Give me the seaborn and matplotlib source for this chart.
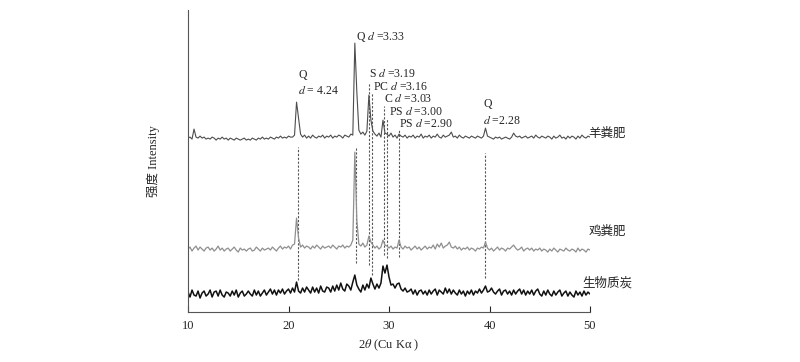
import numpy as np
import pandas as pd
import seaborn as sns
import matplotlib
matplotlib.use("Agg")
import matplotlib.pyplot as plt

# 2theta grid, 0.2 deg step
two_theta = np.round(np.arange(10, 50.001, 0.2), 1)

# intensity above each pattern's own baseline
yang = [
    2, 3, 1, 11, 3, 2, 4, 2, 3, 1,
    2, 1, 3, 2, 0, 2, 1, 3, 1, 2,
    0, 2, 1, 0, 2, 1, 0, 1, 2, 0,
    1, 0, 2, 1, 0, 2, 1, 3, 1, 2,
    1, 3, 2, 1, 3, 2, 4, 2, 3, 2,
    4, 3, 3, 5, 38, 22, 6, 3, 5, 2,
    4, 2, 5, 3, 2, 4, 3, 5, 2, 4,
    3, 5, 2, 4, 3, 5, 4, 2, 5, 4,
    3, 6, 5, 97, 48, 10, 6, 8, 5, 9,
    45, 20, 9, 6, 4, 7, 3, 20, 7, 6,
    4, 7, 3, 5, 2, 6, 4, 3, 5, 2,
    4, 3, 5, 2, 4, 3, 6, 2, 4, 3,
    5, 2, 4, 3, 6, 3, 2, 5, 3, 4,
    5, 8, 3, 4, 2, 5, 3, 2, 4, 3,
    2, 4, 3, 2, 4, 3, 2, 4, 12, 4,
    3, 2, 1, 3, 2, 3, 1, 2, 3, 2,
    1, 3, 7, 4, 3, 4, 2, 3, 4, 2,
    3, 4, 2, 5, 3, 2, 4, 3, 2, 4,
    3, 1, 4, 2, 3, 5, 2, 3, 1, 4,
    2, 4, 3, 1, 4, 2, 5, 3, 2, 4,
    3,
]
ji = [
    1, 3, -1, 2, 4, 0, 3, 1, -1, 2,
    3, 0, 2, -1, 1, 4, 0, 2, -1, 1,
    2, -1, 1, 3, 0, -2, 2, 0, 1, -1,
    1, 2, -1, 0, 3, 1, -1, 2, 0, 1,
    2, 0, 3, 1, -1, 2, 4, 1, 3, 2,
    4, 1, 5, 6, 32, 12, 3, 5, 2, 4,
    3, 1, 4, 2, 5, 3, 1, 4, 2, 3,
    4, 2, 5, 3, 1, 4, 3, 5, 2, 4,
    3, 5, 10, 98, 30, 6, 4, 7, 3, 5,
    14, 8, 5, 2, 4, 1, 3, 10, 5, 4,
    2, 4, 1, 3, 2, 10, 3, 1, 4, 2,
    3, 0, 2, 4, 1, 3, 0, 2, 4, 1,
    3, 2, 5, 1, 6, 3, 7, 2, 4, 5,
    8, 3, 2, 4, 1, 3, 0, 2, 1, 3,
    0, 2, 1, -1, 2, 1, 3, 2, 8, 2,
    0, 2, -1, 1, 3, 0, 2, 1, -1, 2,
    1, 3, 5, 2, 0, 1, 3, -1, 1, 2,
    0, 2, -1, 1, 0, 2, -1, 1, 0, -2,
    1, -1, 2, 0, -2, 1, 0, -1, 2, 0,
    -1, 1, 0, -2, 2, -1, 1, 0, -2, 1,
    0,
]
tan = [
    2, -3, 4, -1, -2, 3, -4, 1, 3, -2,
    0, 4, -3, 2, 3, -2, 4, -1, -3, 2,
    1, -2, 3, -1, 4, -3, 1, 3, -2, 0,
    3, 0, -2, 4, -1, 3, -2, 1, 4, -1,
    2, 5, 0, 4, -1, 4, 1, 5, 0, 3,
    5, 1, 6, 2, 12, 3, 1, 6, 2, 7,
    4, 1, 7, 2, 6, 1, 8, 3, 2, 7,
    6, 2, 8, 3, 9, 4, 11, 5, 3, 10,
    8, 4, 12, 19, 9, 5, 2, 9, 4, 10,
    6, 16, 10, 5, 10, 6, 11, 28, 21, 29,
    17, 9, 10, 6, 10, 11, 5, 3, 6, 2,
    3, 5, 0, 4, -1, 3, 4, 0, 3, -1,
    4, 0, 3, 5, -1, 4, 2, 0, 6, 1,
    5, 0, 4, 1, -1, 4, 0, 3, -2, 3,
    0, 4, -1, 3, 1, 5, 1, 4, 8, 2,
    3, 6, 2, 0, 3, 5, -1, 3, 4, 0,
    3, -1, 4, 0, 3, 5, 0, 4, -1, 3,
    0, 4, -1, 3, 5, 0, -2, 3, -1, 4,
    0, -2, 3, -1, 2, 4, -2, 1, 3, -2,
    2, -1, -3, 3, -1, 2, -2, 3, -1, 2,
    0,
]

samples = ["羊粪肥", "鸡粪肥", "生物质炭"]
series = [yang, ji, tan]
offsets = [172, 62, 18]
colors = ["#4d4d4d", "#8f8f8f", "#111111"]
widths = [0.8, 0.9, 1.1]
label_y = [179, 81, 29]

# reference peaks: 2theta, dashed line top, dashed line bottom
peak_pos = [20.9, 26.7, 28.0, 28.3, 29.5, 29.85, 31.0, 39.55]
guide_top = [165, 164, 229, 219, 206, 194, 182, 159]
guide_bot = [32, 49, 47, 37, 57, 54, 55, 34]

annotations = [
    ("Q", 21.4, 237, "center"),
    ("$d$ = 4.24", 20.9, 221, "left"),
    ("Q $d$ =3.33", 26.7, 275, "left"),
    ("S $d$ =3.19", 28.0, 238, "left"),
    ("PC $d$ =3.16", 28.4, 225.5, "left"),
    ("C $d$ =3.03", 29.5, 213, "left"),
    ("PS $d$ =3.00", 30.0, 200.5, "left"),
    ("PS $d$ =2.90", 31.0, 188, "left"),
    ("Q", 39.8, 208, "center"),
    ("$d$ =2.28", 39.4, 191, "left"),
]

sns.set_style("ticks")
fam = ["Liberation Serif", "Noto Sans CJK SC"]
plt.rcParams["font.family"] = fam
plt.rcParams["mathtext.fontset"] = "stix"

fig = plt.figure(figsize=(8, 3.62), dpi=100)
ax = fig.add_axes([0.235, 0.138, 0.5025, 0.834])

for vals, off, c, lw in zip(series, offsets, colors, widths):
    df = pd.DataFrame({"two_theta": two_theta, "intensity": np.array(vals) + off})
    sns.lineplot(data=df, x="two_theta", y="intensity", color=c, lw=lw, ax=ax)

for p, t, b in zip(peak_pos, guide_top, guide_bot):
    ax.vlines(p, b, t, colors="#555555", linestyles=(0, (2, 1.5)), lw=0.8, zorder=0)

for txt, x, y, ha in annotations:
    ax.text(x, y, txt, ha=ha, va="center", fontsize=8.5, family=fam)

for name, y in zip(samples, label_y):
    ax.text(51.7, y, name, ha="center", va="center", fontsize=9,
            family=["Noto Sans CJK SC"])

ax.set_xlim(10, 50)
ax.set_ylim(0, 302)
ax.set_xticks([10, 20, 30, 40, 50])
ax.set_yticks([])
ax.tick_params(axis="x", direction="in", length=4, width=0.8, labelsize=9, pad=6)
for s in ["top", "right"]:
    ax.spines[s].set_visible(False)
for s in ["left", "bottom"]:
    ax.spines[s].set_color("#555555")
    ax.spines[s].set_linewidth(0.8)

ax.set_xlabel("2$\\theta$ (Cu K\u03b1 )", fontsize=9)
ax.xaxis.set_label_coords(0.5, -0.085)
ax.set_ylabel("强度 Intensity", fontsize=9)
ax.yaxis.set_label_coords(-0.07, 0.5)

fig.savefig("out.png", dpi=100)
